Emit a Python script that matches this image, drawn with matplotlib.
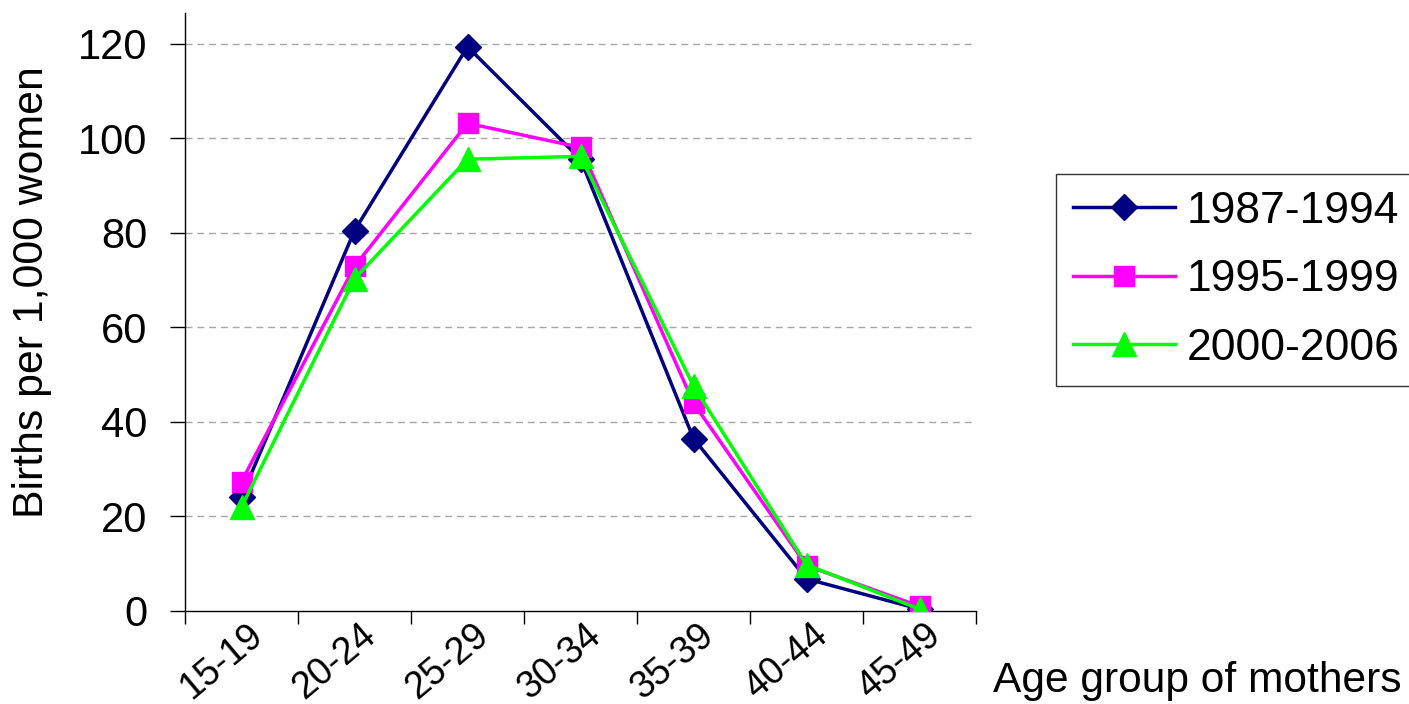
import matplotlib
matplotlib.use("Agg")
import matplotlib.pyplot as plt
import matplotlib.transforms as mtransforms
import numpy as np

plt.rcParams['font.family'] = ['Liberation Sans', 'DejaVu Sans']

# Age-specific fertility rates, births per 1,000 women
age_groups = ['15-19', '20-24', '25-29', '30-34', '35-39', '40-44', '45-49']
rates_1987_1994 = [24.2, 80.5, 119.4, 95.6, 36.5, 6.8, 0.4]
rates_1995_1999 = [27.4, 72.9, 103.2, 98.1, 44.0, 9.6, 1.0]
rates_2000_2006 = [22.0, 70.3, 95.6, 96.2, 47.6, 9.8, 0.4]

W, H = 1409, 704
fig = plt.figure(figsize=(W / 100, H / 100), dpi=100)
ax = fig.add_axes([185 / W, 1 - 611 / H, (976 - 185) / W, (611 - 12.7) / H])

x = np.arange(len(age_groups))
ax.plot(x, rates_1987_1994, color='#000080', lw=2.5, marker='D', ms=13.5,
        label='1987-1994', zorder=3)
ax.plot(x, rates_1995_1999, color='#FF00FF', lw=2.5, marker='s', ms=14.5,
        label='1995-1999', zorder=4)
ax.plot(x, rates_2000_2006, color='#00FF00', lw=2.5, marker='^', ms=17,
        label='2000-2006', zorder=5)

ax.set_xlim(-0.5, len(age_groups) - 0.5)
ax.set_ylim(0, 126.6)

# y axis
ax.set_yticks(np.arange(0, 121, 20))
ax.tick_params(axis='y', direction='out', length=10.8, width=1, pad=16.5,
               labelsize=30)
for v in range(20, 121, 20):
    ax.axhline(v, color='#a6a6a6', lw=1, ls=(0, (5, 3.5)), zorder=1)

# x axis: labels at category centres, tick marks on the boundaries
ax.set_xticks(x)
ax.set_xticklabels(age_groups, rotation=40, ha='right', va='top', fontsize=27)
ax.tick_params(axis='x', which='major', length=0, pad=4)
ax.set_xticks(np.arange(-0.5, len(age_groups)), minor=True)
ax.tick_params(axis='x', which='minor', direction='out', length=9.4, width=1)
shift = mtransforms.ScaledTranslation(28 / 100, 0, fig.dpi_scale_trans)
for lab in ax.get_xticklabels():
    lab.set_transform(lab.get_transform() + shift)

for side in ('top', 'right'):
    ax.spines[side].set_visible(False)
for side in ('left', 'bottom'):
    ax.spines[side].set_linewidth(1)
    ax.spines[side].set_color('black')

fig.text(32.5 / W, 1 - 292 / H, 'Births per 1,000 women', rotation=90,
         ha='center', va='center', fontsize=30.8)
fig.text(993 / W, 1 - 692 / H, 'Age group of mothers', ha='left',
         va='baseline', fontsize=30.6)

leg = ax.legend(loc='upper left', bbox_to_anchor=(1056 / W, 1 - 174 / H),
                bbox_transform=fig.transFigure, fontsize=32, frameon=True,
                fancybox=False, edgecolor='black', handlelength=2.3,
                handletextpad=0.27, borderpad=0.38, labelspacing=0.62,
                borderaxespad=0)
leg.get_frame().set_linewidth(1)

fig.savefig('out.png', dpi=100)
